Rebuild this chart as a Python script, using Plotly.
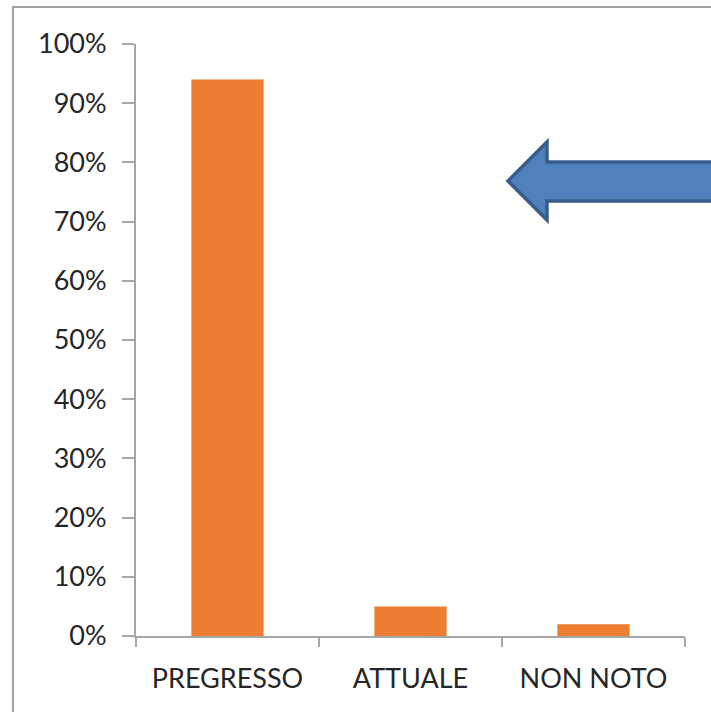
import plotly.graph_objects as go

categories = ["PREGRESSO", "ATTUALE", "NON NOTO"]
values = [0.94, 0.05, 0.02]
y_ticks = [0, 0.1, 0.2, 0.3, 0.4, 0.5, 0.6, 0.7, 0.8, 0.9, 1.0]

W, H = 711, 712
L, R, T, B = 136, 26, 44, 76
pw, ph = W - L - R, H - T - B


def px(x):
    return (x - L) / pw


def py(y):
    return (H - B - y) / ph


fig = go.Figure(go.Bar(x=categories, y=values, marker=dict(color="#ED7D31", line=dict(width=0)),
                       width=0.395))

arrow_pts = [(508, 181), (547, 142), (547, 162), (740, 162), (740, 201), (547, 201), (547, 220)]
path = "M " + " L ".join(f"{px(a):.4f},{py(b):.4f}" for a, b in arrow_pts) + " Z"

fig.update_layout(
    width=W, height=H,
    margin=dict(l=L, r=R, t=T, b=B),
    paper_bgcolor="white", plot_bgcolor="white",
    font=dict(family="Lato", size=27, color="#262626"),
    showlegend=False,
    xaxis=dict(type="category", tickson="boundaries", ticks="outside", ticklen=9, tickwidth=2,
               tickcolor="#A6A6A6", showline=True, linecolor="#A6A6A6", linewidth=2,
               showgrid=False, range=[-0.5, 2.5], zeroline=False, ticklabelstandoff=18),
    yaxis=dict(range=[0, 1], tickvals=y_ticks, tickformat=".0%", ticks="outside", ticklen=12,
               tickwidth=2, tickcolor="#A6A6A6", showline=True, linecolor="#A6A6A6", linewidth=2,
               showgrid=False, zeroline=False, ticklabelstandoff=10),
    shapes=[
        dict(type="rect", xref="paper", yref="paper", x0=px(13), x1=px(760), y0=py(760), y1=py(7),
             line=dict(color="#A0A0A0", width=2), fillcolor="rgba(0,0,0,0)", layer="below"),
        dict(type="path", xref="paper", yref="paper", path=path, fillcolor="#4F81BD",
             line=dict(color="#385D8A", width=3.5), layer="above"),
    ],
)

fig.write_html("out.html")
